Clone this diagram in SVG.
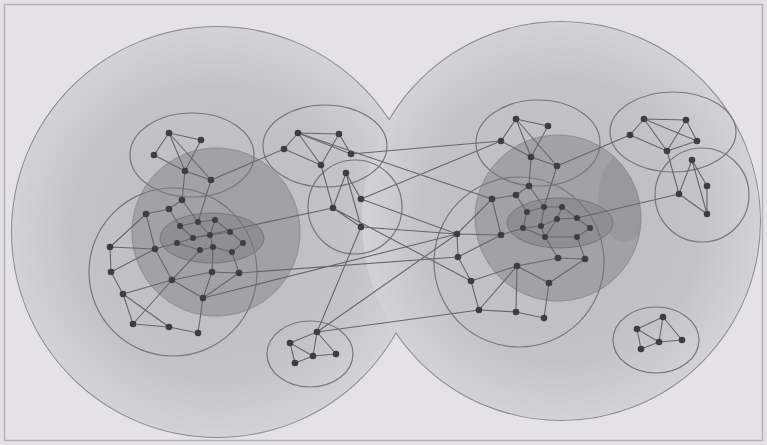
<svg xmlns="http://www.w3.org/2000/svg" width="767" height="445" viewBox="0 0 767 445">
<style>
.n{fill:#3e3d43}
.e{stroke:#66656b;stroke-width:1.1;fill:none}
.c{fill:none;stroke:#77767c;stroke-width:1.2}
.big{fill:url(#bg)}
.bigs{fill:none;stroke:#8a898f;stroke-width:2}
.dark{fill:#a2a1a7;stroke:#8d8c92;stroke-width:1}
.inner{fill:#8f8e94;stroke:#77767c;stroke-width:1}
</style>
<defs>
<radialGradient id="bg" cx="0.5" cy="0.5" r="0.5">
<stop offset="0" stop-color="#bbbac0"/>
<stop offset="0.7" stop-color="#c4c3c8"/>
<stop offset="1" stop-color="#d3d2d7"/>
</radialGradient>
<clipPath id="rdc"><circle cx="558" cy="218" r="83"/></clipPath>
</defs>
<rect x="0" y="0" width="767" height="445" fill="#e4e2e8"/>
<rect x="4.5" y="4.5" width="758" height="436" fill="none" stroke="#b3b2b6" stroke-width="1.5"/>
<g id="lobes">
<circle class="bigs" cx="217" cy="232" r="205"/>
<circle class="bigs" cx="561" cy="221" r="199"/>
<circle class="big" cx="217" cy="232" r="205"/>
<circle class="big" cx="561" cy="221" r="199"/>
</g>
<g id="cores">
<circle class="dark" cx="216" cy="232" r="84"/>
<circle class="dark" cx="558" cy="218" r="83"/>
<ellipse cx="624" cy="198" rx="26" ry="44" fill="#8c8b91" opacity="0.4" clip-path="url(#rdc)"/>
<ellipse class="inner" cx="212" cy="238" rx="52" ry="25"/>
<ellipse class="inner" cx="560" cy="223" rx="53" ry="25"/>
</g>
<g id="cluster-rings">
<ellipse class="c" cx="192" cy="155" rx="62" ry="42"/>
<ellipse class="c" cx="325" cy="146" rx="62" ry="41"/>
<circle class="c" cx="355" cy="207" r="47"/>
<circle class="c" cx="173" cy="272" r="84"/>
<circle class="c" cx="519" cy="262" r="85"/>
<ellipse class="c" cx="538" cy="143" rx="62" ry="43"/>
<ellipse class="c" cx="673" cy="132" rx="63" ry="40"/>
<circle class="c" cx="702" cy="195" r="47"/>
<ellipse class="c" cx="310" cy="354" rx="43" ry="33"/>
<ellipse class="c" cx="656" cy="340" rx="43" ry="33"/>
</g>
<g id="connectors" class="e">
<path d="M169,133L201,140M169,133L154,155M169,133L185,171M169,133L211,180M201,140L185,171M154,155L185,171M185,171L211,180M185,171L182,200M211,180L198,222M211,180L284,149"/>
<path d="M182,200L169,209M169,209L146,214M146,214L110,247M182,200L198,222M169,209L180,226M146,214L155,249"/>
<path d="M298,133L339,134M298,133L284,149M298,133L321,165M298,133L351,154M339,134L351,154M339,134L321,165M284,149L321,165M321,165L333,208"/>
<path d="M346,173L333,208M346,173L361,199M346,173L361,227M333,208L361,227M361,199L457,234M361,227L457,234M361,199L501,141M333,208L193,238M333,208L471,281"/>
<path d="M351,154L501,141M298,133L492,199M203,298L457,234M239,273L458,257M317,332L361,227M317,332L457,234M317,332L479,310"/>
<path d="M180,226L198,222M198,222L215,220M215,220L230,232M180,226L193,238M193,238L210,235M210,235L215,220M210,235L230,232M230,232L243,243M193,238L177,243M177,243L200,250M200,250L213,247M213,247L232,252M232,252L243,243M210,235L213,247M198,222L210,235M177,243L155,249M200,250L172,280M213,247L212,272M232,252L239,273"/>
<path d="M110,247L111,272M110,247L155,249M111,272L155,249M111,272L123,294M123,294L133,324M123,294L172,280M133,324L172,280M123,294L169,327M133,324L169,327M169,327L198,333M172,280L203,298M172,280L212,272M203,298L198,333M203,298L212,272M203,298L239,273M155,249L172,280M212,272L239,273"/>
<path d="M317,332L290,343M317,332L313,356M317,332L336,354M290,343L313,356M290,343L295,363M313,356L295,363M313,356L336,354"/>
<path d="M516,119L548,126M516,119L501,141M516,119L531,157M516,119L557,166M548,126L531,157M531,157L557,166M501,141L531,157M531,157L529,186M557,166L544,207M557,166L630,135"/>
<path d="M492,199L516,195M516,195L529,186M492,199L457,234M492,199L501,235M516,195L527,212M529,186L544,207M457,234L501,235M457,234L458,257M501,235L458,257M458,257L471,281M471,281L479,310M471,281L517,266M517,266L479,310M517,266L516,312M517,266L549,283M517,266L558,258M549,283L544,318M479,310L516,312M516,312L544,318M558,258L585,259M549,283L585,259M585,259L577,237M558,258L545,237M501,235L523,228"/>
<path d="M527,212L544,207M544,207L562,207M527,212L523,228M523,228L541,226M541,226L557,219M557,219L562,207M557,219L577,218M577,218L590,228M590,228L577,237M577,237L545,237M545,237L541,226M541,226L544,207M557,219L545,237M562,207L577,218M523,228L545,237"/>
<path d="M644,119L686,120M644,119L630,135M644,119L667,151M644,119L697,141M686,120L667,151M686,120L697,141M630,135L667,151M697,141L667,151M667,151L679,194M692,160L679,194M692,160L707,186M692,160L707,214M707,186L707,214M679,194L707,214M679,194L577,218"/>
<path d="M663,317L637,329M663,317L659,342M663,317L682,340M637,329L659,342M637,329L641,349M659,342L682,340M659,342L641,349"/>
</g>
<g id="cluster-A"><circle class="n" cx="169" cy="133" r="3.3"/><circle class="n" cx="201" cy="140" r="3.3"/><circle class="n" cx="154" cy="155" r="3.3"/><circle class="n" cx="185" cy="171" r="3.3"/><circle class="n" cx="211" cy="180" r="3.3"/></g>
<g id="cluster-B"><circle class="n" cx="298" cy="133" r="3.3"/><circle class="n" cx="339" cy="134" r="3.3"/><circle class="n" cx="284" cy="149" r="3.3"/><circle class="n" cx="351" cy="154" r="3.3"/><circle class="n" cx="321" cy="165" r="3.3"/></g>
<g id="cluster-C"><circle class="n" cx="346" cy="173" r="3.3"/><circle class="n" cx="361" cy="199" r="3.3"/><circle class="n" cx="333" cy="208" r="3.3"/><circle class="n" cx="361" cy="227" r="3.3"/></g>
<g id="cluster-L"><circle class="n" cx="146" cy="214" r="3.3"/><circle class="n" cx="169" cy="209" r="3.3"/><circle class="n" cx="182" cy="200" r="3.3"/><circle class="n" cx="110" cy="247" r="3.3"/><circle class="n" cx="155" cy="249" r="3.3"/><circle class="n" cx="111" cy="272" r="3.3"/><circle class="n" cx="123" cy="294" r="3.3"/><circle class="n" cx="133" cy="324" r="3.3"/><circle class="n" cx="169" cy="327" r="3.3"/><circle class="n" cx="198" cy="333" r="3.3"/><circle class="n" cx="172" cy="280" r="3.3"/><circle class="n" cx="203" cy="298" r="3.3"/><circle class="n" cx="212" cy="272" r="3.3"/><circle class="n" cx="239" cy="273" r="3.3"/></g>
<g id="cluster-D"><circle class="n" cx="180" cy="226" r="3"/><circle class="n" cx="198" cy="222" r="3"/><circle class="n" cx="215" cy="220" r="3"/><circle class="n" cx="230" cy="232" r="3"/><circle class="n" cx="193" cy="238" r="3"/><circle class="n" cx="210" cy="235" r="3"/><circle class="n" cx="177" cy="243" r="3"/><circle class="n" cx="243" cy="243" r="3"/><circle class="n" cx="200" cy="250" r="3"/><circle class="n" cx="213" cy="247" r="3"/><circle class="n" cx="232" cy="252" r="3"/></g>
<g id="cluster-I"><circle class="n" cx="317" cy="332" r="3.3"/><circle class="n" cx="290" cy="343" r="3.3"/><circle class="n" cx="313" cy="356" r="3.3"/><circle class="n" cx="336" cy="354" r="3.3"/><circle class="n" cx="295" cy="363" r="3.3"/></g>
<g id="cluster-E"><circle class="n" cx="516" cy="119" r="3.3"/><circle class="n" cx="548" cy="126" r="3.3"/><circle class="n" cx="501" cy="141" r="3.3"/><circle class="n" cx="531" cy="157" r="3.3"/><circle class="n" cx="557" cy="166" r="3.3"/></g>
<g id="cluster-R"><circle class="n" cx="529" cy="186" r="3.3"/><circle class="n" cx="492" cy="199" r="3.3"/><circle class="n" cx="516" cy="195" r="3.3"/><circle class="n" cx="457" cy="234" r="3.3"/><circle class="n" cx="501" cy="235" r="3.3"/><circle class="n" cx="458" cy="257" r="3.3"/><circle class="n" cx="471" cy="281" r="3.3"/><circle class="n" cx="517" cy="266" r="3.3"/><circle class="n" cx="549" cy="283" r="3.3"/><circle class="n" cx="558" cy="258" r="3.3"/><circle class="n" cx="585" cy="259" r="3.3"/><circle class="n" cx="479" cy="310" r="3.3"/><circle class="n" cx="516" cy="312" r="3.3"/><circle class="n" cx="544" cy="318" r="3.3"/></g>
<g id="cluster-Q"><circle class="n" cx="527" cy="212" r="3"/><circle class="n" cx="544" cy="207" r="3"/><circle class="n" cx="562" cy="207" r="3"/><circle class="n" cx="557" cy="219" r="3"/><circle class="n" cx="577" cy="218" r="3"/><circle class="n" cx="541" cy="226" r="3"/><circle class="n" cx="523" cy="228" r="3"/><circle class="n" cx="590" cy="228" r="3"/><circle class="n" cx="545" cy="237" r="3"/><circle class="n" cx="577" cy="237" r="3"/></g>
<g id="cluster-F"><circle class="n" cx="644" cy="119" r="3.3"/><circle class="n" cx="686" cy="120" r="3.3"/><circle class="n" cx="630" cy="135" r="3.3"/><circle class="n" cx="697" cy="141" r="3.3"/><circle class="n" cx="667" cy="151" r="3.3"/><circle class="n" cx="692" cy="160" r="3.3"/><circle class="n" cx="707" cy="186" r="3.3"/><circle class="n" cx="679" cy="194" r="3.3"/><circle class="n" cx="707" cy="214" r="3.3"/></g>
<g id="cluster-H"><circle class="n" cx="663" cy="317" r="3.3"/><circle class="n" cx="637" cy="329" r="3.3"/><circle class="n" cx="659" cy="342" r="3.3"/><circle class="n" cx="682" cy="340" r="3.3"/><circle class="n" cx="641" cy="349" r="3.3"/></g>
</svg>
